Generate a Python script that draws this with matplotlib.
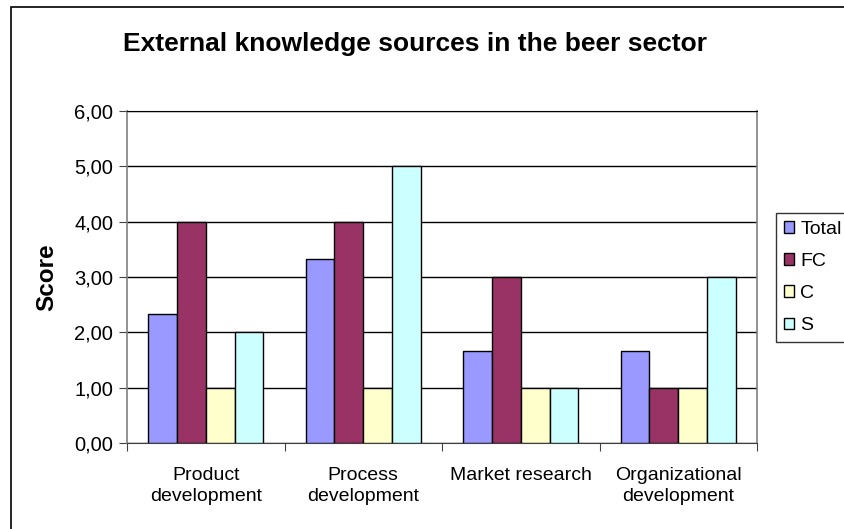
import matplotlib
matplotlib.use("Agg")
import matplotlib.pyplot as plt
from matplotlib.patches import Rectangle
from matplotlib.ticker import FuncFormatter, MultipleLocator
import numpy as np

plt.rcParams["font.family"] = ["Liberation Sans", "DejaVu Sans"]

categories = ["Product\ndevelopment", "Process\ndevelopment",
              "Market research", "Organizational\ndevelopment"]
series_names = ["Total", "FC", "C", "S"]
total = [2.33, 3.33, 1.67, 1.67]
fc = [4.0, 4.0, 3.0, 1.0]
c = [1.0, 1.0, 1.0, 1.0]
s = [2.0, 5.0, 1.0, 3.0]
colors = ["#9999FF", "#993366", "#FFFFCC", "#CCFFFF"]

fig = plt.figure(figsize=(8.45, 5.29), dpi=100)
ax = fig.add_axes([127 / 845, 1 - 443 / 529, 630 / 845, 332 / 529])

# outer chart frame (runs off the right and bottom edges)
fig.patches.append(Rectangle((11 / 845, -0.05), 1.2, 1 - 7 / 529 + 0.05,
                             transform=fig.transFigure, fill=False,
                             edgecolor="black", linewidth=1.2))

x = np.arange(len(categories))
w = 0.183
for i, (vals, name, col) in enumerate(zip([total, fc, c, s], series_names, colors)):
    ax.bar(x + (i - 1.5) * w, vals, width=w, color=col, edgecolor="black",
           linewidth=1.0, label=name, zorder=3)

ax.set_xlim(-0.5, 3.5)
ax.set_ylim(0, 6)
ax.yaxis.set_major_locator(MultipleLocator(1))
ax.yaxis.set_major_formatter(FuncFormatter(lambda v, _: f"{v:.2f}".replace(".", ",")))
ax.grid(axis="y", color="black", linewidth=1.0, zorder=0)

ax.set_xticks(np.arange(-0.5, 4.0, 1.0))
ax.set_xticklabels([])
ax.set_xticks(x, minor=True)
ax.set_xticklabels(categories, minor=True, fontsize=14, linespacing=1.3)
ax.tick_params(axis="x", which="minor", length=0, pad=17)
ax.tick_params(axis="x", which="major", length=6, color="#404040")
ax.tick_params(axis="y", length=6, labelsize=14.5, color="#404040", pad=4)

for side in ["left", "right"]:
    ax.spines[side].set_color("#808080")
    ax.spines[side].set_linewidth(1.2)
ax.spines["bottom"].set_color("#404040")
ax.spines["top"].set_color("black")

ax.set_ylabel("Score", fontsize=17.5, fontweight="bold")
ax.yaxis.set_label_coords(-0.1095, 0.5)
fig.text(415 / 845, 1 - 44 / 529, "External knowledge sources in the beer sector",
         ha="center", va="center", fontsize=19, fontweight="bold")

leg = fig.legend(loc="upper left", bbox_to_anchor=(776 / 845, 1 - 213 / 529),
                 fontsize=14, frameon=True, fancybox=False, edgecolor="black",
                 borderpad=0.4, labelspacing=0.78, handlelength=0.55,
                 handleheight=0.55, handletextpad=0.3, borderaxespad=0)
leg.get_frame().set_linewidth(1.0)

fig.savefig("out.png", dpi=100)
